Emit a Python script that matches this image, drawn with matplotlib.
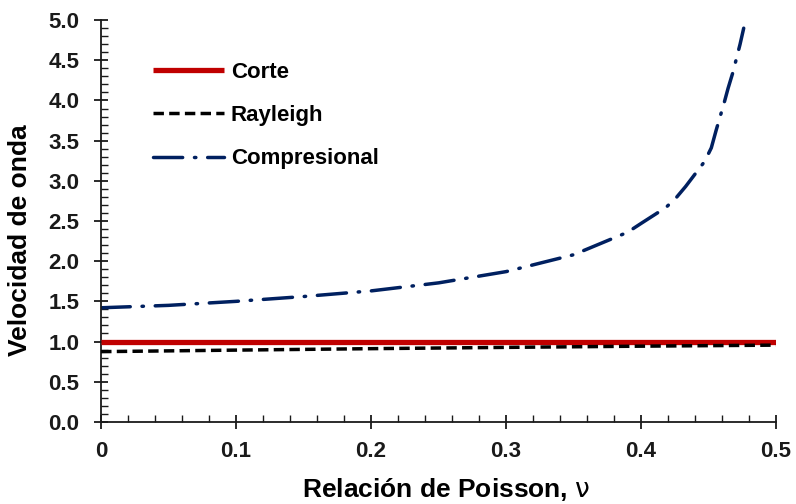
import matplotlib
matplotlib.use("Agg")
import matplotlib.pyplot as plt
from matplotlib.ticker import MultipleLocator, FixedLocator

plt.rcParams['font.family'] = ['Liberation Sans', 'DejaVu Sans']
plt.rcParams['font.weight'] = 'bold'
plt.rcParams['mathtext.fontset'] = 'custom'
plt.rcParams['mathtext.it'] = 'DejaVu Sans:normal'
plt.rcParams['mathtext.rm'] = 'DejaVu Sans:normal'
plt.rcParams['lines.scale_dashes'] = False

# Shear wave velocity (normalised)
nu_shear = [0.0, 0.5]
v_shear = [1.0, 1.0]

# Rayleigh wave velocity
nu_rayleigh = [0.0, 0.1, 0.2, 0.3, 0.4, 0.5]
v_rayleigh = [0.874, 0.893, 0.911, 0.927, 0.942, 0.955]

# Compressional wave velocity
nu_comp = [0.0, 0.05, 0.10, 0.15, 0.20, 0.25, 0.30, 0.35, 0.39, 0.40,
           0.4185, 0.426, 0.433, 0.447, 0.452, 0.4556, 0.4615, 0.4644,
           0.468, 0.4733, 0.476]
v_comp = [1.42, 1.45, 1.50, 1.56, 1.63, 1.73, 1.87, 2.08, 2.36, 2.47,
          2.67, 2.79, 2.93, 3.24, 3.41, 3.63, 3.97, 4.15,
          4.35, 4.70, 4.90]

x_ticks = [0.0, 0.1, 0.2, 0.3, 0.4, 0.5]
x_tick_labels = ['0', '0.1', '0.2', '0.3', '0.4', '0.5']
y_ticks = [0.0, 0.5, 1.0, 1.5, 2.0, 2.5, 3.0, 3.5, 4.0, 4.5, 5.0]
y_tick_labels = ['%.1f' % v for v in y_ticks]

fig = plt.figure(figsize=(7.96, 5.04), dpi=100)
ax = fig.add_axes([0.127, 0.163, 0.848, 0.797])

ax.plot(nu_shear, v_shear, color='#C00000', lw=3.8, solid_capstyle='butt',
        label='Corte', zorder=3)
ax.plot(nu_rayleigh, v_rayleigh, color='black', lw=2.5, dashes=(7.5, 3.8),
        dash_capstyle='butt', label='Rayleigh', zorder=4)
ax.plot(nu_comp, v_comp, color='#002060', lw=2.5, dashes=(21, 8.5, 1.0, 8.5),
        dash_capstyle='round', label='Compresional', zorder=2)

ax.set_xlim(0, 0.5)
ax.set_ylim(0, 5.0)
ax.xaxis.set_major_locator(FixedLocator(x_ticks))
ax.set_xticklabels(x_tick_labels)
ax.yaxis.set_major_locator(FixedLocator(y_ticks))
ax.set_yticklabels(y_tick_labels)
ax.xaxis.set_minor_locator(MultipleLocator(0.02))
ax.yaxis.set_minor_locator(MultipleLocator(0.1))

for s in ['top', 'right']:
    ax.spines[s].set_visible(False)
for s in ['left', 'bottom']:
    ax.spines[s].set_linewidth(1.3)
    ax.spines[s].set_color('#1a1a1a')

ax.tick_params(which='major', direction='inout', length=10, width=1.3,
               labelsize=16, colors='#1a1a1a')
ax.tick_params(which='minor', direction='in', length=5, width=1.0,
               colors='#1a1a1a')
ax.tick_params(axis='y', which='major', pad=10.5)
ax.tick_params(axis='x', which='major', pad=9)
for lbl in ax.get_xticklabels() + ax.get_yticklabels():
    lbl.set_fontweight('bold')

ax.set_xlabel('Relación de Poisson, $\\nu$', fontsize=19, fontweight='bold')
ax.xaxis.set_label_coords(0.511, -0.187, transform=ax.transAxes)
ax.xaxis.label.set_va('baseline')
ax.set_ylabel('Velocidad de onda', fontsize=19, fontweight='bold')
ax.yaxis.set_label_coords(-0.102, 0.453, transform=ax.transAxes)

leg = ax.legend(loc='upper left', bbox_to_anchor=(0.063, 0.918), frameon=False,
                fontsize=16, handlelength=3.2, handletextpad=0.32,
                labelspacing=1.0, borderaxespad=0)
for t in leg.get_texts():
    t.set_fontweight('bold')

fig.savefig('out.png', dpi=100, facecolor='white')
